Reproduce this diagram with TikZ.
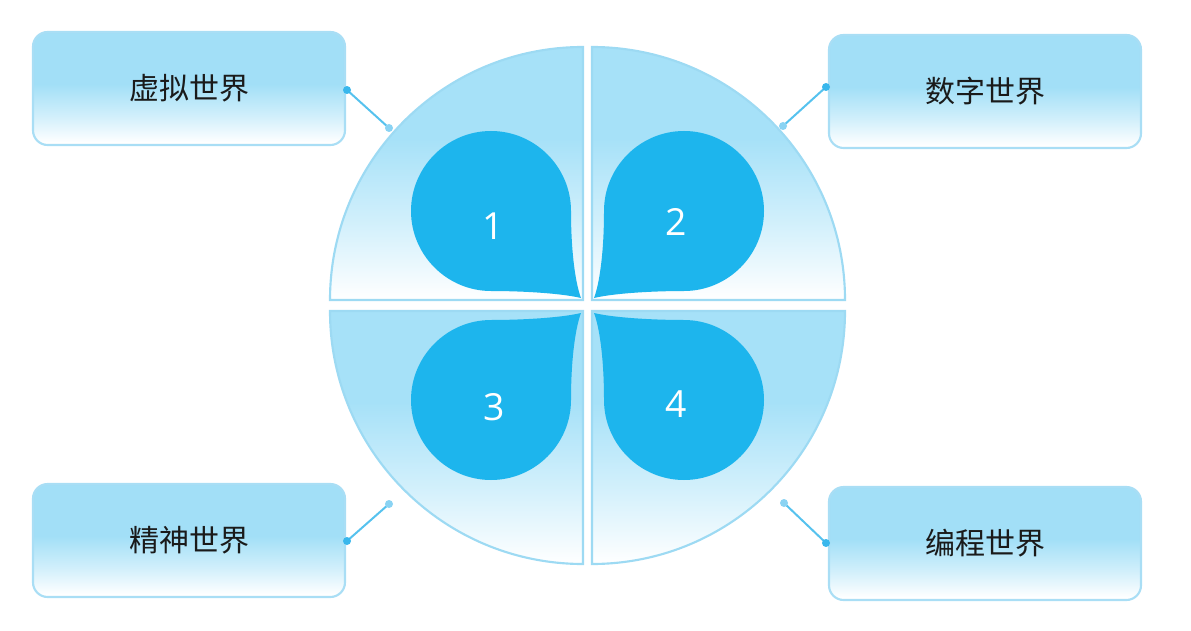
\documentclass[tikz,border=0pt]{standalone}
\usepackage{fontspec}
\newfontfamily\cjk{Noto Sans CJK SC}
\newfontfamily\numfont{Open Sans}
\definecolor{qblue}{HTML}{A6E1F8}
\definecolor{qborder}{HTML}{9DDAF3}
\definecolor{dropblue}{HTML}{1DB5ED}
\definecolor{bblue}{HTML}{A2DFF7}
\definecolor{bborder}{HTML}{A9DEF5}
\definecolor{connc}{HTML}{56C2EE}
\definecolor{dotdark}{HTML}{39B7EC}
\definecolor{dotlight}{HTML}{8AD3F3}
\definecolor{txt}{HTML}{1A1A1A}
\pgfdeclareverticalshading{qshade}{100bp}{color(0bp)=(white); color(25bp)=(white); color(40bp)=(qblue!50!white); color(57bp)=(qblue); color(100bp)=(qblue)}
\pgfdeclareverticalshading{bshade}{100bp}{color(0bp)=(white); color(26bp)=(white); color(38bp)=(bblue!50!white); color(52bp)=(bblue); color(100bp)=(bblue)}
\newcommand{\mydrop}{%
  \fill[dropblue] (-2,-2) .. controls (-23,-7) and (-63,-9) .. (-92,-9)
    .. controls (-136,-9) and (-172,-45) .. (-172,-89)
    .. controls (-172,-133) and (-136,-169) .. (-92,-169)
    .. controls (-48,-169) and (-12,-133) .. (-12,-89)
    .. controls (-12,-45) and (-7,-15) .. cycle;}
\begin{document}
\begin{tikzpicture}[x=0.75pt,y=-0.75pt,
  quad/.style={draw=qborder, line width=1.6pt, shading=qshade},
  box/.style={draw=bborder, line width=1.6pt, rounded corners=11pt, minimum width=234pt, minimum height=84.75pt,
    shading=bshade, font=\cjk\fontsize{22.5}{24}\selectfont, text=txt},
  digit/.style={text=white, font=\numfont\fontsize{28}{30}\selectfont},
  conn/.style={draw=connc, line width=1.5pt},
  dotA/.style={circle, fill=dotdark, inner sep=0pt, minimum size=6pt},
  dotB/.style={circle, fill=dotlight, inner sep=0pt, minimum size=6pt}]
\useasboundingbox (0,0) rectangle (1191,631);
% quadrants
\path[quad] (583,300) -- (330,300) .. controls (330,160.3) and (443.3,47) .. (583,47) -- cycle;
\path[quad] (592,300) -- (592,47) .. controls (731.7,47) and (845,160.3) .. (845,300) -- cycle;
\path[quad] (583,311) -- (330,311) .. controls (330,450.7) and (443.3,564) .. (583,564) -- cycle;
\path[quad] (592,311) -- (845,311) .. controls (845,450.7) and (731.7,564) .. (592,564) -- cycle;
% drops
\begin{scope}[shift={(583,300)}]\mydrop\end{scope}
\begin{scope}[shift={(592,300)}, xscale=-1]\mydrop\end{scope}
\begin{scope}[shift={(583,311)}, yscale=-1]\mydrop\end{scope}
\begin{scope}[shift={(592,311)}, xscale=-1, yscale=-1]\mydrop\end{scope}
\node[digit] (n1) at (493,226) {1};
\node[digit] (n2) at (676,222) {2};
\node[digit] (n3) at (494,407) {3};
\node[digit] (n4) at (676,404) {4};
% boxes
\node[box] (b1) at (189,88.5) {虚拟世界};
\node[box] (b2) at (985,91.5) {数字世界};
\node[box] (b3) at (189,540.5) {精神世界};
\node[box] (b4) at (985,543.5) {编程世界};
% connectors
\coordinate (c1a) at (347,90); \coordinate (c1b) at (389,128);
\coordinate (c2a) at (826,87); \coordinate (c2b) at (783,126);
\coordinate (c3a) at (347,541); \coordinate (c3b) at (389,504);
\coordinate (c4a) at (826,543); \coordinate (c4b) at (784,503);
\draw[conn] (c1a) -- (c1b);
\draw[conn] (c2a) -- (c2b);
\draw[conn] (c3a) -- (c3b);
\draw[conn] (c4a) -- (c4b);
\node[dotA] (d1a) at (c1a) {}; \node[dotB] (d1b) at (c1b) {};
\node[dotA] (d2a) at (c2a) {}; \node[dotB] (d2b) at (c2b) {};
\node[dotA] (d3a) at (c3a) {}; \node[dotB] (d3b) at (c3b) {};
\node[dotA] (d4a) at (c4a) {}; \node[dotB] (d4b) at (c4b) {};
\end{tikzpicture}
\end{document}
